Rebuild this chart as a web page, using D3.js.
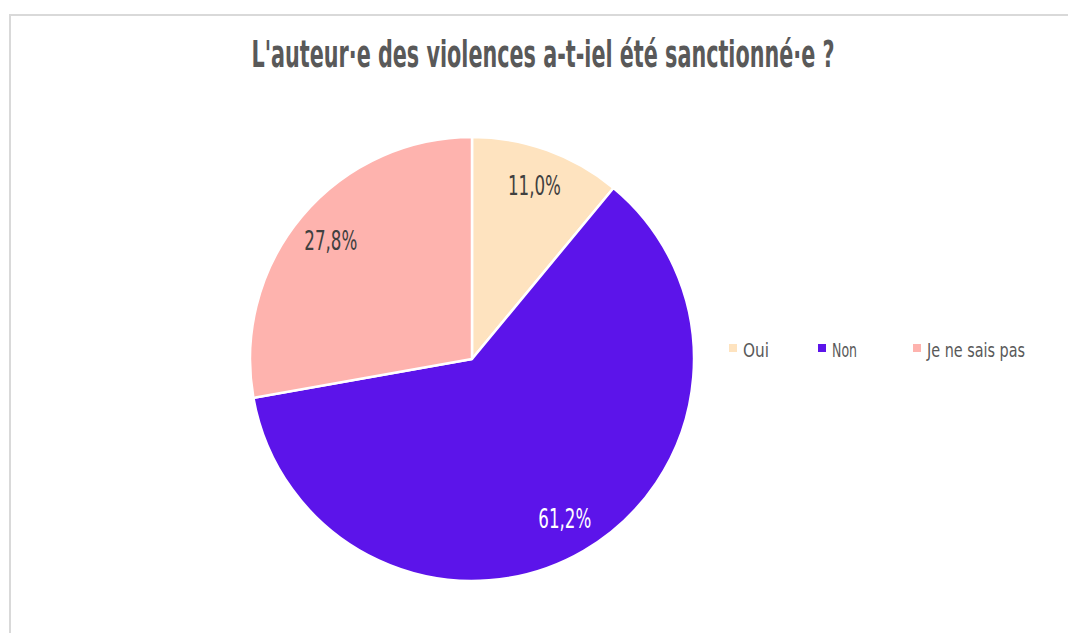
<!DOCTYPE html>
<html>
<head>
<meta charset="utf-8">
<script src="https://cdn.jsdelivr.net/npm/d3@7"></script>
<style>
  body { margin: 0; background: #fff; }
  text { font-family: "DejaVu Sans Condensed", "Liberation Sans Narrow", sans-serif; }
</style>
</head>
<body>
<svg width="1068" height="633"></svg>
<script>
// chart data
var categories = ["Oui", "Non", "Je ne sais pas"];
var values = [11.0, 61.2, 27.8];
var labels = ["11,0%", "61,2%", "27,8%"];
var title = "L'auteur·e des violences a-t-iel été sanctionné·e ?";

var colors = ["#fee3bf", "#5c14ea", "#feb3ae"];
var labelColors = ["#404040", "#ffffff", "#404040"];

var svg = d3.select("svg");
var width = 1068, height = 633;

// frame
svg.append("rect")
  .attr("x", 10).attr("y", 15)
  .attr("width", 1070).attr("height", 640)
  .style("fill", "white")
  .style("stroke", "#d9d9d9")
  .style("stroke-width", 2);

// the original font is a tall condensed face, so squeeze to its width
svg.append("text")
  .attr("x", 543).attr("y", 67)
  .attr("text-anchor", "middle")
  .attr("textLength", 583)
  .attr("lengthAdjust", "spacingAndGlyphs")
  .style("font-size", "38px")
  .style("font-weight", "bold")
  .style("fill", "#595959")
  .text(title);

var cx = 472, cy = 359, r = 222;

var pie = d3.pie().sort(null).value(function(d) { return d; });
var arcs = pie(values);
var arc = d3.arc().innerRadius(0).outerRadius(r);
var labelArc = d3.arc().innerRadius(r * 0.83).outerRadius(r * 0.83);

var g = svg.append("g").attr("transform", "translate(" + cx + "," + cy + ")");

g.selectAll("path")
  .data(arcs)
  .enter()
  .append("path")
  .attr("d", arc)
  .style("fill", function(d, i) { return colors[i]; })
  .style("stroke", "white")
  .style("stroke-width", 2.5)
  .style("stroke-linejoin", "round");

g.selectAll("text.lbl")
  .data(arcs)
  .enter()
  .append("text")
  .attr("class", "lbl")
  .attr("x", function(d) { return labelArc.centroid(d)[0]; })
  .attr("y", function(d) { return labelArc.centroid(d)[1]; })
  .attr("dy", "0.36em")
  .attr("text-anchor", "middle")
  .attr("textLength", 53)
  .attr("lengthAdjust", "spacingAndGlyphs")
  .style("font-size", "26px")
  .style("fill", function(d, i) { return labelColors[i]; })
  .text(function(d, i) { return labels[i]; });

// legend
var legendX = [729, 818, 913];
var legendW = [26, 25, 98];
var legend = svg.selectAll("g.leg")
  .data(categories)
  .enter()
  .append("g")
  .attr("class", "leg")
  .attr("transform", function(d, i) { return "translate(" + legendX[i] + ",350)"; });

legend.append("rect")
  .attr("x", 0).attr("y", -6)
  .attr("width", 8).attr("height", 8)
  .style("fill", function(d, i) { return colors[i]; });

legend.append("text")
  .attr("x", 14).attr("y", 0)
  .attr("dy", "0.36em")
  .attr("textLength", function(d, i) { return legendW[i]; })
  .attr("lengthAdjust", "spacingAndGlyphs")
  .style("font-size", "19px")
  .style("fill", "#595959")
  .text(function(d) { return d; });
</script>
</body>
</html>
